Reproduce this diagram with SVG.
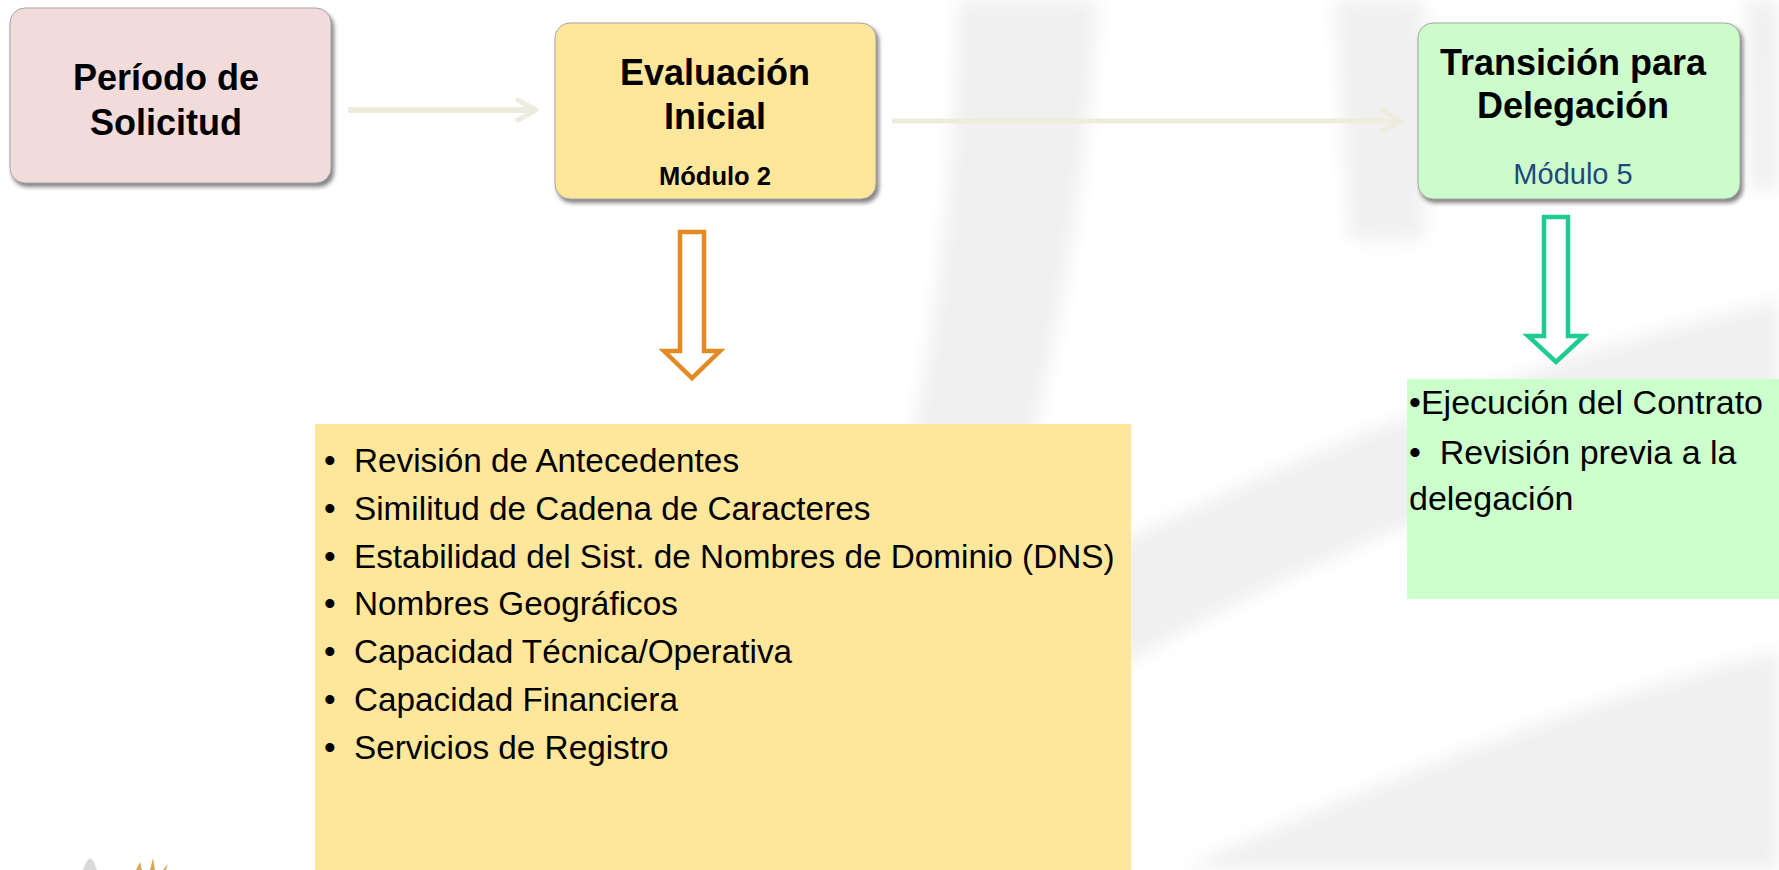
<svg xmlns="http://www.w3.org/2000/svg" width="1779" height="870" viewBox="0 0 1779 870">
  <defs>
    <filter id="soft" x="-20%" y="-20%" width="140%" height="140%">
      <feGaussianBlur stdDeviation="9"/>
    </filter>
    <filter id="shadow" x="-10%" y="-10%" width="120%" height="130%">
      <feGaussianBlur stdDeviation="2"/>
    </filter>
    <marker id="chev" markerUnits="userSpaceOnUse" viewBox="0 0 24 26" refX="21" refY="13" markerWidth="24" markerHeight="26" orient="auto">
      <path d="M3,3 L21,13 L3,23" fill="none" stroke="#EEEBDF" stroke-width="5" stroke-linecap="round" stroke-linejoin="round"/>
    </marker>
    <style>
      .title { font-family: "Liberation Sans", Arial, sans-serif; font-weight: bold; font-size: 36px; fill: #000; text-anchor: middle; }
      .sub { font-family: "Liberation Sans", Arial, sans-serif; text-anchor: middle; }
      .item { font-family: "Liberation Sans", Arial, sans-serif; font-size: 33.3px; fill: #000; }
      .item2 { font-family: "Liberation Sans", Arial, sans-serif; font-size: 34px; fill: #000; }
      .conn { fill: none; stroke: #EEEBDF; }
      .box { stroke: #a6a6a6; stroke-width: 1; }
      .shd { fill: #595959; opacity: 0.75; }
    </style>
  </defs>

  <rect x="0" y="0" width="1779" height="870" fill="#ffffff"/>

  <g id="watermark" fill="#f0f0f0" filter="url(#soft)">
    <path d="M958,0 L1098,0 C1085,210 1045,430 975,650 L860,650 C925,430 955,210 958,0 Z"/>
    <path d="M1335,0 L1425,0 L1425,240 L1350,240 Z"/>
    <path d="M1745,0 L1779,0 L1779,190 L1750,190 Z"/>
    <path d="M1010,600 C1250,470 1520,360 1779,300 L1779,410 C1540,460 1300,560 1080,690 Z"/>
    <path d="M1180,870 C1380,780 1580,700 1779,650 L1779,870 Z"/>
  </g>

  <g id="connectors">
    <line class="conn" x1="348" y1="110" x2="536" y2="110" stroke-width="6" marker-end="url(#chev)"/>
    <line class="conn" x1="892" y1="121" x2="1401" y2="121" stroke-width="5" marker-end="url(#chev)"/>
    <path id="arrow-orange" d="M680,232 L704,232 L704,351 L720,351 L692,378 L664,351 L680,351 Z" fill="#ffffff" stroke="#E38B22" stroke-width="4.5" stroke-linejoin="miter"/>
    <path id="arrow-green" d="M1544,217 L1568,217 L1568,336 L1584,336 L1556,362 L1528,336 L1544,336 Z" fill="#ffffff" stroke="#1DCB93" stroke-width="4.5" stroke-linejoin="miter"/>
  </g>

  <g id="node-solicitud">
    <rect class="shd" x="12" y="12" width="322" height="175" rx="15" filter="url(#shadow)"/>
    <rect class="box" x="10" y="8" width="321" height="175" rx="15" fill="#F2DCDB"/>
    <text class="title" x="166" y="90">Período de</text>
    <text class="title" x="166" y="135">Solicitud</text>
  </g>

  <g id="node-evaluacion">
    <rect class="shd" x="557" y="26" width="322" height="177" rx="15" filter="url(#shadow)"/>
    <rect class="box" x="555" y="23" width="321" height="176" rx="15" fill="#FEE79B"/>
    <text class="title" x="715" y="85">Evaluación</text>
    <text class="title" x="715" y="129">Inicial</text>
    <text class="sub" x="715" y="185" font-size="25.5" font-weight="bold" fill="#000">Módulo 2</text>
  </g>

  <g id="node-transicion">
    <rect class="shd" x="1420" y="26" width="323" height="177" rx="15" filter="url(#shadow)"/>
    <rect class="box" x="1418" y="23" width="322" height="176" rx="15" fill="#CCFCCB"/>
    <text class="title" x="1573" y="75">Transición para</text>
    <text class="title" x="1573" y="118">Delegación</text>
    <text class="sub" x="1573" y="184" font-size="29" fill="#1F497D">Módulo 5</text>
  </g>

  <g id="list-evaluacion">
    <rect x="315" y="424" width="816" height="446" fill="#FEE79B"/>
    <text class="item" x="324" y="472">•</text><text class="item" x="354" y="472">Revisión de Antecedentes</text>
    <text class="item" x="324" y="520">•</text><text class="item" x="354" y="520">Similitud de Cadena de Caracteres</text>
    <text class="item" x="324" y="568">•</text><text class="item" x="354" y="568">Estabilidad del Sist. de Nombres de Dominio (DNS)</text>
    <text class="item" x="324" y="615">•</text><text class="item" x="354" y="615">Nombres Geográficos</text>
    <text class="item" x="324" y="663">•</text><text class="item" x="354" y="663">Capacidad Técnica/Operativa</text>
    <text class="item" x="324" y="711">•</text><text class="item" x="354" y="711">Capacidad Financiera</text>
    <text class="item" x="324" y="759">•</text><text class="item" x="354" y="759">Servicios de Registro</text>
  </g>

  <g id="list-transicion">
    <rect x="1407" y="379" width="372" height="220" fill="#CCFFCC"/>
    <text class="item2" x="1409" y="414">•Ejecución del Contrato</text>
    <text class="item2" x="1409" y="464" xml:space="preserve">•  Revisión previa a la</text>
    <text class="item2" x="1409" y="510">delegación</text>
  </g>

  <g id="logo">
    <path d="M83,870 L86,862 L90,858 L94,862 L97,870 Z" fill="#d9d9d9"/>
    <path d="M136,870 L140,862 L142,870 Z M150,870 L153,858 L155,870 Z M163,870 L168,864 L166,870 Z" fill="#d9a75a"/>
  </g>
</svg>
